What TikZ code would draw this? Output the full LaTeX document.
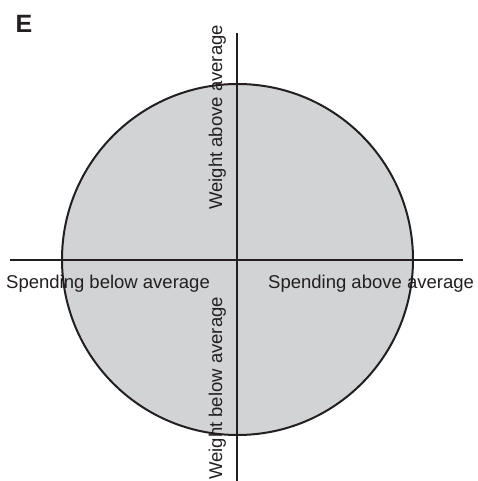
\documentclass[tikz,border=0pt]{standalone}
\usepackage{fontspec}
\setmainfont{Liberation Sans}
\definecolor{fillgray}{HTML}{D1D3D4}
\definecolor{ink}{HTML}{231F20}
\tikzset{
  axis/.style={draw=ink, line width=2pt},
  lbl/.style={inner sep=0pt, text=ink, font=\fontsize{18.5}{20}\selectfont},
}
\begin{document}
\begin{tikzpicture}[x=1pt,y=-1pt]
\useasboundingbox (0,0) rectangle (478,481);
\node[circle, minimum size=351pt, inner sep=0pt, fill=fillgray, draw=ink, line width=2pt] (c) at (237.5,259.5) {};
\coordinate (top) at (237,33);
\coordinate (bot) at (237,481);
\coordinate (lft) at (10,260);
\coordinate (rgt) at (463,260);
\draw[axis] (top) -- (bot);
\draw[axis] (lft) -- (rgt);
\node[anchor=base west, inner sep=0pt, text=ink, font=\fontsize{25}{27}\selectfont\bfseries] (E) at (15.5,33) {E};
\node[lbl, anchor=base west] (sb) at (6,288) {Spending below average};
\node[lbl, anchor=base west] (sa) at (268,288) {Spending above average};
\node[lbl, anchor=base west, rotate=90] (wa) at (222,210) {Weight above average};
\node[lbl, anchor=base west, rotate=90] (wb) at (222,480) {Weight below average};
\end{tikzpicture}
\end{document}
